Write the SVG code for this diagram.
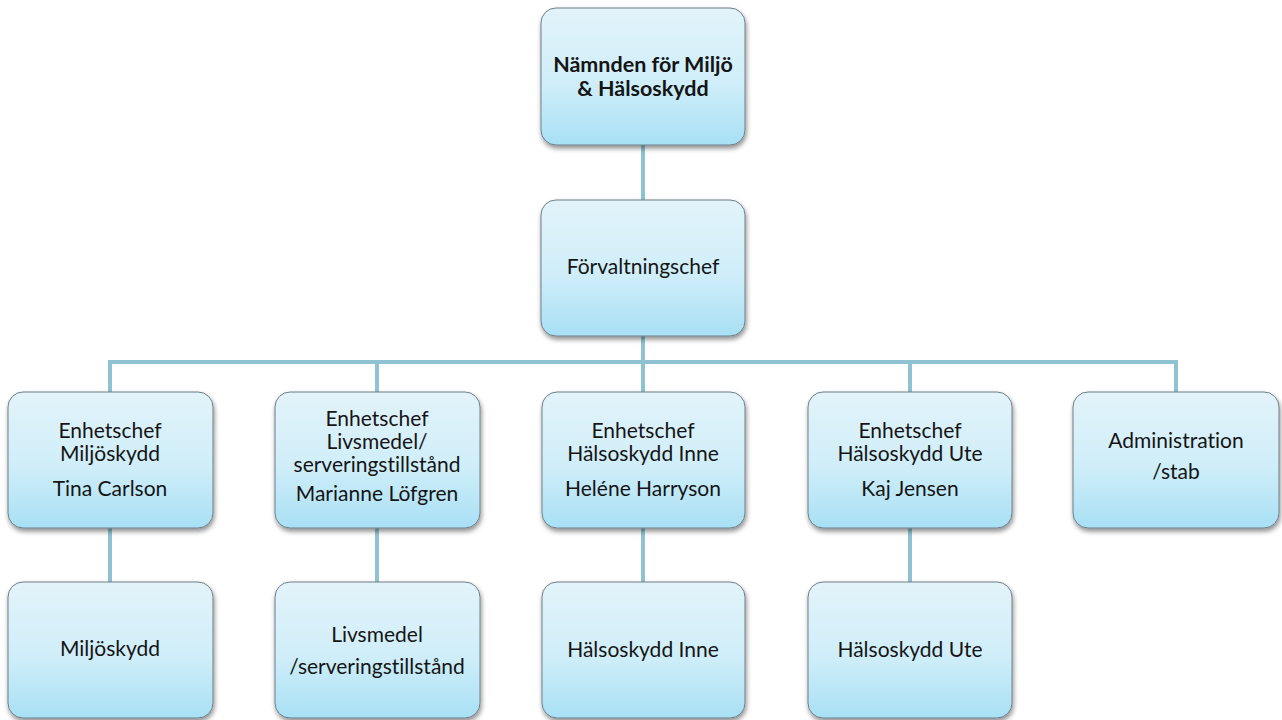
<svg xmlns="http://www.w3.org/2000/svg" width="1282" height="720" viewBox="0 0 1282 720">
  <defs>
    <linearGradient id="boxfill" x1="0" y1="0" x2="0" y2="1">
      <stop offset="0" stop-color="#e3f3fa"/>
      <stop offset="0.55" stop-color="#cfeef9"/>
      <stop offset="1" stop-color="#a8e0f5"/>
    </linearGradient>
    <filter id="shadow" x="-10%" y="-10%" width="125%" height="130%">
      <feGaussianBlur in="SourceAlpha" stdDeviation="2.5"/>
      <feOffset dx="1" dy="3" result="b"/>
      <feComponentTransfer><feFuncA type="linear" slope="0.45"/></feComponentTransfer>
      <feMerge><feMergeNode/><feMergeNode in="SourceGraphic"/></feMerge>
    </filter>
  </defs>
  <style>
    .box { fill: url(#boxfill); stroke: #6f7f88; stroke-width: 1; filter: url(#shadow); }
    .lbl { font-family: Lato, "Open Sans", "Liberation Sans", sans-serif; font-size: 21px; fill: #151515; text-anchor: middle; font-variant-ligatures: none; font-feature-settings: "liga" 0, "dlig" 0; }
    .bold { font-weight: bold; font-size: 21.5px; }
    .conn { stroke: #8fc2d3; stroke-width: 4; fill: none; }
  </style>
  <rect width="1282" height="720" fill="#ffffff"/>

  <g id="connectors">
    <line class="conn" x1="643" y1="145" x2="643" y2="200"/>
    <line class="conn" x1="643" y1="336" x2="643" y2="362"/>
    <line class="conn" x1="110" y1="362" x2="1178" y2="362"/>
    <line class="conn" x1="110" y1="360" x2="110" y2="392"/>
    <line class="conn" x1="377" y1="360" x2="377" y2="392"/>
    <line class="conn" x1="643" y1="360" x2="643" y2="392"/>
    <line class="conn" x1="910" y1="360" x2="910" y2="392"/>
    <line class="conn" x1="1176" y1="360" x2="1176" y2="392"/>
    <line class="conn" x1="110" y1="528" x2="110" y2="583"/>
    <line class="conn" x1="377" y1="528" x2="377" y2="583"/>
    <line class="conn" x1="643" y1="528" x2="643" y2="583"/>
    <line class="conn" x1="910" y1="528" x2="910" y2="583"/>
  </g>

  <g id="nämnden">
    <rect class="box" x="541" y="8" width="204" height="137" rx="15"/>
    <text class="lbl bold" x="643" y="72">Nämnden för Miljö</text>
    <text class="lbl bold" x="643" y="96">&amp; Hälsoskydd</text>
  </g>

  <g id="forvaltningschef">
    <rect class="box" x="541" y="200" width="204" height="136" rx="15"/>
    <text class="lbl" x="643" y="274">Förvaltningschef</text>
  </g>

  <g id="enhetschef-miljoskydd">
    <rect class="box" x="8" y="392" width="205" height="136" rx="15"/>
    <text class="lbl" x="110" y="438">Enhetschef</text>
    <text class="lbl" x="110" y="461">Miljöskydd</text>
    <text class="lbl" x="110" y="496">Tina Carlson</text>
  </g>

  <g id="enhetschef-livsmedel">
    <rect class="box" x="275" y="392" width="205" height="136" rx="15"/>
    <text class="lbl" x="377" y="426">Enhetschef</text>
    <text class="lbl" x="377" y="449">Livsmedel/</text>
    <text class="lbl" x="377" y="472">serveringstillstånd</text>
    <text class="lbl" x="377" y="501">Marianne Löfgren</text>
  </g>

  <g id="enhetschef-halsoskydd-inne">
    <rect class="box" x="542" y="392" width="203" height="136" rx="15"/>
    <text class="lbl" x="643" y="438">Enhetschef</text>
    <text class="lbl" x="643" y="461">Hälsoskydd Inne</text>
    <text class="lbl" x="643" y="496">Heléne Harryson</text>
  </g>

  <g id="enhetschef-halsoskydd-ute">
    <rect class="box" x="808" y="392" width="204" height="136" rx="15"/>
    <text class="lbl" x="910" y="438">Enhetschef</text>
    <text class="lbl" x="910" y="461">Hälsoskydd Ute</text>
    <text class="lbl" x="910" y="496">Kaj Jensen</text>
  </g>

  <g id="administration">
    <rect class="box" x="1073" y="392" width="206" height="136" rx="15"/>
    <text class="lbl" x="1176" y="448">Administration</text>
    <text class="lbl" x="1176" y="479">/stab</text>
  </g>

  <g id="miljoskydd">
    <rect class="box" x="8" y="582" width="205" height="136" rx="15"/>
    <text class="lbl" x="110" y="656">Miljöskydd</text>
  </g>

  <g id="livsmedel">
    <rect class="box" x="275" y="582" width="205" height="136" rx="15"/>
    <text class="lbl" x="377" y="642">Livsmedel</text>
    <text class="lbl" x="377" y="674">/serveringstillstånd</text>
  </g>

  <g id="halsoskydd-inne">
    <rect class="box" x="542" y="582" width="203" height="136" rx="15"/>
    <text class="lbl" x="643" y="657">Hälsoskydd Inne</text>
  </g>

  <g id="halsoskydd-ute">
    <rect class="box" x="808" y="582" width="204" height="136" rx="15"/>
    <text class="lbl" x="910" y="657">Hälsoskydd Ute</text>
  </g>
</svg>
